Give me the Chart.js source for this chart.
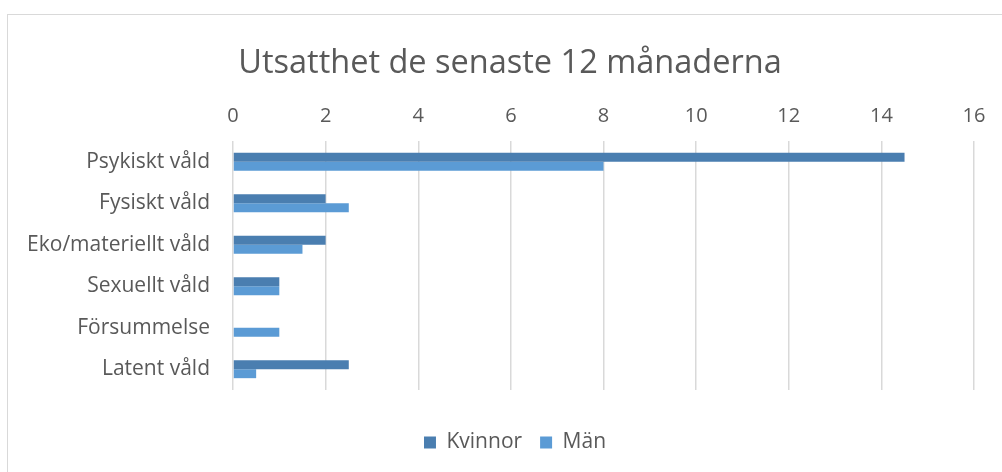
<!DOCTYPE html>
<html>
<head>
<meta charset="utf-8">
<script src="https://cdn.jsdelivr.net/npm/chart.js@4"></script>
<style>
  html, body { margin: 0; padding: 0; background: #fff; overflow: hidden; }
  #box { position: absolute; left: 7px; top: 14px; width: 1000px; height: 482px; border: 1px solid #d9d9d9; box-sizing: border-box; }
  canvas { display: block; }
</style>
</head>
<body>
<div id="box"><canvas id="myChart" width="998" height="480"></canvas></div>
<script>
var categories = ['Psykiskt våld', 'Fysiskt våld', 'Eko/materiellt våld', 'Sexuellt våld', 'Försummelse', 'Latent våld'];
var kvinnor = [14.5, 2, 2, 1, 0, 2.5];
var man = [8, 2.5, 1.5, 1, 1, 0.5];

var textColor = '#595959';
var fontFamily = "'Open Sans', sans-serif";

// title and legend are centred on the whole box, not on the area left of the right padding
var centerBlocks = {
    id: 'centerBlocks',
    afterLayout: function (chart) {
        chart.titleBlock.left = 0;
        chart.titleBlock.right = 1004;
        chart.legend.left = 0;
        chart.legend.right = 1014;
        chart.legend.top += 24;
        chart.legend.bottom += 24;
    }
};

var ctx = document.getElementById('myChart').getContext('2d');
var myChart = new Chart(ctx, {
    type: 'bar',
    data: {
        labels: categories,
        datasets: [{
            label: 'Kvinnor',
            data: kvinnor,
            backgroundColor: '#4a7eb0',
            categoryPercentage: 0.43,
            barPercentage: 1.0
        }, {
            label: 'Män',
            data: man,
            backgroundColor: '#5b9bd5',
            categoryPercentage: 0.43,
            barPercentage: 1.0
        }]
    },
    options: {
        indexAxis: 'y',
        responsive: false,
        animation: false,
        layout: {
            padding: { left: 0, right: 32, top: 0, bottom: 56 }
        },
        plugins: {
            title: {
                display: true,
                text: 'Utsatthet de senaste 12 månaderna',
                color: textColor,
                font: { family: fontFamily, size: 32.5, weight: 'normal' },
                padding: { top: 29, bottom: 8 }
            },
            legend: {
                position: 'bottom',
                labels: {
                    color: textColor,
                    font: { family: fontFamily, size: 21 },
                    boxWidth: 12,
                    boxHeight: 12,
                    padding: 18
                }
            },
            tooltip: { enabled: false }
        },
        scales: {
            x: {
                position: 'top',
                min: 0,
                max: 16,
                ticks: {
                    stepSize: 2,
                    color: textColor,
                    font: { family: fontFamily, size: 20 },
                    padding: 13
                },
                grid: { color: '#d9d9d9', lineWidth: 1.5, drawTicks: false },
                border: { display: false }
            },
            y: {
                afterFit: function (axis) { axis.width = 225; },
                ticks: {
                    color: textColor,
                    font: { family: fontFamily, size: 21 },
                    padding: 15
                },
                grid: { display: false },
                border: { display: false }
            }
        }
    },
    plugins: [centerBlocks]
});
</script>
</body>
</html>
